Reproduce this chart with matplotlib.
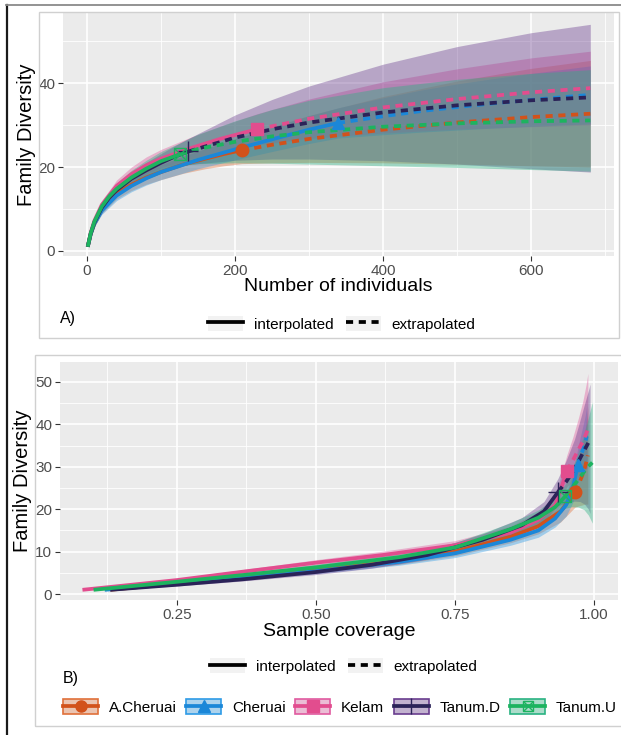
import numpy as np
import matplotlib
matplotlib.use("Agg")
import matplotlib.pyplot as plt
from matplotlib.patches import Patch, Rectangle
from matplotlib.lines import Line2D
from matplotlib.legend_handler import HandlerTuple
from matplotlib.colors import to_rgba

plt.rcParams['font.family'] = ['Liberation Sans', 'DejaVu Sans']

# Sites and styles
sites = ["A.Cheruai", "Cheruai", "Kelam", "Tanum.D", "Tanum.U"]
line_col = {"A.Cheruai": "#D2521B", "Cheruai": "#1B87D8", "Kelam": "#E24D8E",
            "Tanum.D": "#2B2358", "Tanum.U": "#1DB35F"}
fill_col = {"A.Cheruai": "#E0703A", "Cheruai": "#2E9BE6", "Kelam": "#E05A9F",
            "Tanum.D": "#6A3D8F", "Tanum.U": "#2AB382"}
markers = {"A.Cheruai": "o", "Cheruai": "^", "Kelam": "s", "Tanum.D": "+", "Tanum.U": "s"}

# Panel A: size-based rarefaction / extrapolation
size_x = {
    "A.Cheruai": [1, 5, 10, 20, 40, 60, 80, 100, 130, 160, 185, 209, 250, 300, 400, 500, 600, 680],
    "Cheruai": [1, 5, 10, 20, 40, 60, 80, 100, 150, 200, 250, 300, 339, 400, 450, 500, 550, 600, 680],
    "Kelam": [1, 5, 10, 20, 40, 60, 80, 100, 140, 180, 210, 230, 300, 400, 500, 600, 680],
    "Tanum.D": [1, 5, 10, 20, 30, 40, 60, 80, 100, 120, 137, 200, 250, 300, 400, 500, 600, 680],
    "Tanum.U": [1, 5, 10, 20, 30, 40, 60, 80, 100, 125, 150, 200, 250, 300, 400, 500, 600, 680],
}
size_qd = {
    "A.Cheruai": [1, 4.0, 6.5, 9.8, 13.6, 15.8, 17.5, 18.8, 20.6, 22.0, 23.1, 24.0, 25.3, 26.7, 28.9, 30.6, 31.9, 32.7],
    "Cheruai": [1, 4.0, 6.5, 9.6, 13.2, 15.5, 17.3, 18.8, 21.7, 24.2, 26.6, 28.9, 30.5, 32.1, 33.3, 34.3, 35.2, 36.0, 37.2],
    "Kelam": [1, 4.3, 7.2, 11.0, 15.5, 18.3, 20.4, 22.0, 24.5, 26.7, 28.1, 29.0, 31.5, 34.2, 36.2, 37.8, 38.8],
    "Tanum.D": [1, 4.1, 6.8, 10.3, 12.7, 14.5, 17.2, 19.2, 21.0, 22.6, 23.7, 27.0, 29.0, 30.6, 33.0, 34.7, 35.9, 36.6],
    "Tanum.U": [1, 4.2, 7.0, 10.6, 13.0, 14.8, 17.5, 19.6, 21.4, 23.0, 24.3, 26.0, 27.3, 28.3, 29.6, 30.4, 30.9, 31.1],
}
size_lo = {
    "A.Cheruai": [1, 3.6, 5.8, 8.9, 12.4, 14.4, 15.9, 17.0, 18.5, 19.6, 20.3, 20.8, 21.0, 21.1, 21.0, 20.7, 20.3, 20.0],
    "Cheruai": [1, 3.6, 5.8, 8.7, 12.0, 14.1, 15.7, 17.0, 19.6, 21.7, 23.7, 25.6, 26.9, 27.7, 28.3, 28.8, 29.3, 29.7, 30.3],
    "Kelam": [1, 3.9, 6.5, 10.0, 14.1, 16.6, 18.4, 19.8, 21.9, 23.7, 24.7, 25.3, 26.8, 28.1, 29.0, 29.6, 30.0],
    "Tanum.D": [1, 3.7, 6.1, 9.3, 11.5, 13.1, 15.5, 17.3, 18.8, 20.0, 20.6, 21.6, 21.9, 21.9, 21.5, 20.7, 19.6, 18.8],
    "Tanum.U": [1, 3.8, 6.3, 9.6, 11.8, 13.4, 15.8, 17.6, 19.1, 20.3, 20.8, 21.0, 20.9, 20.7, 20.3, 19.9, 19.4, 19.0],
}
size_hi = {
    "A.Cheruai": [1, 4.4, 7.2, 10.7, 14.8, 17.2, 19.1, 20.6, 22.7, 24.4, 25.9, 27.2, 29.6, 32.3, 36.8, 40.5, 43.5, 45.4],
    "Cheruai": [1, 4.4, 7.2, 10.5, 14.4, 16.9, 18.9, 20.6, 23.8, 26.7, 29.5, 32.2, 34.1, 36.5, 38.3, 39.8, 41.1, 42.3, 44.1],
    "Kelam": [1, 4.7, 7.9, 12.0, 16.9, 20.0, 22.4, 24.2, 27.1, 29.7, 31.5, 32.7, 36.2, 40.3, 43.4, 46.0, 47.6],
    "Tanum.D": [1, 4.5, 7.5, 11.3, 13.9, 15.9, 18.9, 21.1, 23.2, 25.2, 26.8, 32.4, 36.1, 39.3, 44.5, 48.7, 52.0, 54.0],
    "Tanum.U": [1, 4.6, 7.7, 11.6, 14.2, 16.2, 19.2, 21.6, 23.7, 25.7, 27.8, 31.0, 33.7, 35.9, 38.9, 40.9, 42.3, 43.2],
}
size_ref = {"A.Cheruai": 11, "Cheruai": 12, "Kelam": 11, "Tanum.D": 10, "Tanum.U": 9}

# Panel B: coverage-based curves
cov_x = {
    "A.Cheruai": [0.13, 0.25, 0.37, 0.5, 0.65, 0.75, 0.85, 0.9, 0.94, 0.966, 0.973, 0.979, 0.984, 0.987, 0.989],
    "Cheruai": [0.12, 0.25, 0.37, 0.5, 0.65, 0.75, 0.85, 0.9, 0.93, 0.95, 0.962, 0.971, 0.976, 0.98, 0.984, 0.987],
    "Kelam": [0.08, 0.25, 0.37, 0.5, 0.62, 0.75, 0.85, 0.9, 0.93, 0.94, 0.951, 0.962, 0.972, 0.98, 0.986, 0.989],
    "Tanum.D": [0.13, 0.25, 0.37, 0.5, 0.6, 0.7, 0.8, 0.87, 0.91, 0.935, 0.95, 0.965, 0.975, 0.983, 0.99, 0.993],
    "Tanum.U": [0.10, 0.25, 0.37, 0.5, 0.65, 0.75, 0.85, 0.9, 0.93, 0.948, 0.96, 0.972, 0.982, 0.99, 0.997],
}
cov_qd = {
    "A.Cheruai": [1, 2.5, 4.0, 5.6, 7.8, 10.0, 13.5, 16.0, 19.5, 24.0, 26.0, 28.0, 30.0, 31.5, 32.7],
    "Cheruai": [1, 2.4, 3.8, 5.4, 7.6, 9.6, 12.8, 15.0, 17.8, 21.0, 25.0, 30.5, 32.5, 34.0, 35.5, 37.2],
    "Kelam": [1, 3.3, 5.3, 7.4, 9.2, 11.5, 14.5, 17.5, 21.0, 24.5, 29.0, 31.5, 34.0, 36.0, 37.8, 38.8],
    "Tanum.D": [1, 2.2, 3.5, 5.2, 6.9, 9.2, 12.8, 16.2, 19.5, 24.0, 26.5, 29.5, 32.0, 34.0, 35.7, 36.5],
    "Tanum.U": [1, 2.9, 4.5, 6.3, 8.7, 11.0, 15.3, 18.0, 20.5, 23.0, 25.0, 27.0, 28.8, 30.1, 31.0],
}
cov_lo = {
    "A.Cheruai": [1, 2.2, 3.6, 5.0, 7.0, 9.0, 12.1, 14.2, 17.0, 20.5, 20.8, 21.0, 21.2, 21.2, 21.2],
    "Cheruai": [1, 2.1, 3.4, 4.8, 6.8, 8.6, 11.5, 13.4, 15.8, 18.4, 21.6, 26.5, 27.6, 28.4, 29.1, 29.9],
    "Kelam": [1, 3.0, 4.8, 6.7, 8.3, 10.4, 13.0, 15.6, 18.6, 21.5, 25.3, 26.5, 27.6, 28.5, 29.3, 29.8],
    "Tanum.D": [1, 1.9, 3.1, 4.6, 6.1, 8.2, 11.4, 14.4, 17.2, 20.8, 21.5, 21.9, 21.8, 21.2, 20.0, 19.0],
    "Tanum.U": [1, 2.6, 4.0, 5.6, 7.8, 9.9, 13.8, 16.2, 18.3, 20.2, 20.6, 20.5, 19.9, 18.6, 16.7],
}
cov_hi = {
    "A.Cheruai": [1, 2.8, 4.4, 6.2, 8.6, 11.0, 14.9, 17.8, 22.0, 27.5, 31.2, 35.0, 38.8, 41.8, 44.2],
    "Cheruai": [1, 2.7, 4.2, 6.0, 8.4, 10.6, 14.1, 16.6, 19.8, 23.6, 28.4, 34.5, 37.4, 39.6, 41.9, 44.5],
    "Kelam": [1, 3.6, 5.8, 8.1, 10.1, 12.6, 16.0, 19.4, 23.4, 27.5, 32.7, 37.0, 41.5, 45.5, 49.5, 52.0],
    "Tanum.D": [1, 2.5, 3.9, 5.8, 7.7, 10.2, 14.2, 18.0, 21.8, 27.2, 31.5, 36.5, 41.0, 44.8, 48.0, 49.5],
    "Tanum.U": [1, 3.2, 5.0, 7.0, 9.6, 12.1, 16.8, 19.8, 22.7, 25.8, 29.4, 33.5, 37.7, 41.6, 45.3],
}
cov_ref = {"A.Cheruai": 9, "Cheruai": 11, "Kelam": 10, "Tanum.D": 9, "Tanum.U": 9}

W, H = 621, 735
fig = plt.figure(figsize=(W / 100, H / 100), dpi=100)


def px_box(x0, y0, x1, y1):
    return [x0 / W, 1 - y1 / H, (x1 - x0) / W, (y1 - y0) / H]


LW = 2.7
DASH = (0, (1.9, 1.5))
ALPHA = 0.4


def draw_panel(ax, xs, qds, los, his, refs):
    ax.set_facecolor("#EBEBEB")
    for s in sites:
        ax.fill_between(xs[s], los[s], his[s], color=fill_col[s], alpha=ALPHA, lw=0)
    for s in sites:
        x = np.array(xs[s]); y = np.array(qds[s]); r = refs[s]
        ax.plot(x[:r + 1], y[:r + 1], color=line_col[s], lw=LW, solid_capstyle='butt')
        ax.plot(x[r:], y[r:], color=line_col[s], lw=LW, ls=DASH)
    for s in sites:
        x = xs[s][refs[s]]; y = qds[s][refs[s]]
        if s == "Tanum.U":
            ax.plot(x, y, marker="s", ms=8, mfc="none", mec=line_col[s], mew=1)
            ax.plot(x, y, marker="x", ms=8, mec=line_col[s], mew=1)
        elif s == "Tanum.D":
            ax.plot(x, y, marker="+", ms=14, mec=line_col[s], mew=1)
        else:
            ax.plot(x, y, marker=markers[s], ms=9, color=line_col[s])
    for sp in ax.spines.values():
        sp.set_visible(False)
    ax.grid(True, which="major", color="white", lw=1.2)
    ax.grid(True, which="minor", color="white", lw=0.6)
    ax.set_axisbelow(True)
    ax.tick_params(which="major", length=3.5, width=0.8, color="#333333",
                   labelcolor="#4D4D4D", labelsize=11, pad=2)
    ax.tick_params(which="minor", length=0)


# Panel A
axA = fig.add_axes(px_box(63, 13, 614, 256))
draw_panel(axA, size_x, size_qd, size_lo, size_hi, size_ref)
axA.set_xlim(-32.4, 712)
axA.set_ylim(-1.2, 56.7)
axA.set_xticks([0, 200, 400, 600])
axA.set_xticks([100, 300, 500, 700], minor=True)
axA.set_yticks([0, 20, 40])
axA.set_yticks([10, 30, 50], minor=True)

# Panel B
axB = fig.add_axes(px_box(60, 362, 618, 600))
draw_panel(axB, cov_x, cov_qd, cov_lo, cov_hi, cov_ref)
axB.set_xlim(0.0396, 1.0432)
axB.set_ylim(-1.4, 54.7)
axB.set_xticks([0.25, 0.5, 0.75, 1.0])
axB.set_xticklabels(["0.25", "0.50", "0.75", "1.00"])
axB.set_xticks([0.125, 0.375, 0.625, 0.875], minor=True)
axB.set_yticks([0, 10, 20, 30, 40, 50])
axB.set_yticks([5, 15, 25, 35, 45], minor=True)

# Axis titles
fig.text(26 / W, 1 - 135 / H, "Family Diversity", rotation=90, ha="center", va="center", fontsize=14.5)
fig.text(338 / W, 1 - 287 / H, "Number of individuals", ha="center", va="center", fontsize=14)
fig.text(23 / W, 1 - 481 / H, "Family Diversity", rotation=90, ha="center", va="center", fontsize=14.5)
fig.text(339 / W, 1 - 632 / H, "Sample coverage", ha="center", va="center", fontsize=14)
fig.text(60 / W, 1 - 319 / H, "A)", ha="left", va="center", fontsize=11.5)
fig.text(63 / W, 1 - 678 / H, "B)", ha="left", va="center", fontsize=11.5)

# Linetype legends
key_bg = Patch(facecolor="#F2F2F2", edgecolor="none")
solid = Line2D([], [], color="black", lw=LW)
dashed = Line2D([], [], color="black", lw=LW, ls=DASH)
for cy, cx in [(324, 342), (666, 344)]:
    fig.legend(handles=[(key_bg, solid), (key_bg, dashed)], labels=["interpolated", "extrapolated"],
               handler_map={tuple: HandlerTuple(ndivide=1, pad=0)}, ncol=2, loc="center",
               bbox_to_anchor=(cx / W, 1 - cy / H), frameon=False, fontsize=11,
               handlelength=2.3, handleheight=1.1, handletextpad=0.7, columnspacing=0.8,
               borderpad=0, borderaxespad=0)

# Site legend
handles = []
for s in sites:
    box = Patch(facecolor=to_rgba(fill_col[s], 0.35), edgecolor=fill_col[s], lw=1.2)
    if s == "Tanum.U":
        ln = Line2D([], [], color=line_col[s], lw=LW, marker="s", ms=7, mfc="none", mew=1)
        ln2 = Line2D([], [], ls="none", marker="x", ms=7, mec=line_col[s], mew=1)
        handles.append((key_bg, box, ln, ln2))
    elif s == "Tanum.D":
        ln = Line2D([], [], color=line_col[s], lw=LW, marker="+", ms=12, mew=1)
        handles.append((key_bg, box, ln))
    else:
        ln = Line2D([], [], color=line_col[s], lw=LW, marker=markers[s], ms=8)
        handles.append((key_bg, box, ln))
fig.legend(handles=handles, labels=sites, handler_map={tuple: HandlerTuple(ndivide=1, pad=0)},
           ncol=5, loc="center", bbox_to_anchor=(340 / W, 1 - 707 / H), frameon=False, fontsize=11,
           handlelength=2.3, handleheight=1.1, handletextpad=0.7, columnspacing=0.62,
           borderpad=0, borderaxespad=0)

# Panel frames and outer border
fig.add_artist(Rectangle((39 / W, 1 - 338 / H), (619 - 39) / W, (338 - 12) / H,
                         transform=fig.transFigure, fill=False, ec="#D0D0D0", lw=1))
fig.add_artist(Rectangle((35 / W, 1 - 726 / H), (640 - 35) / W, (726 - 355) / H,
                         transform=fig.transFigure, fill=False, ec="#D0D0D0", lw=1))
fig.add_artist(Line2D([7 / W, 7 / W], [0, 1 - 5 / H], transform=fig.transFigure, color="#1A1A1A", lw=1.6))
fig.add_artist(Line2D([6 / W, 1], [1 - 5 / H, 1 - 5 / H], transform=fig.transFigure, color="#8A8A8A", lw=1.3))

fig.savefig("out.png", dpi=100)
